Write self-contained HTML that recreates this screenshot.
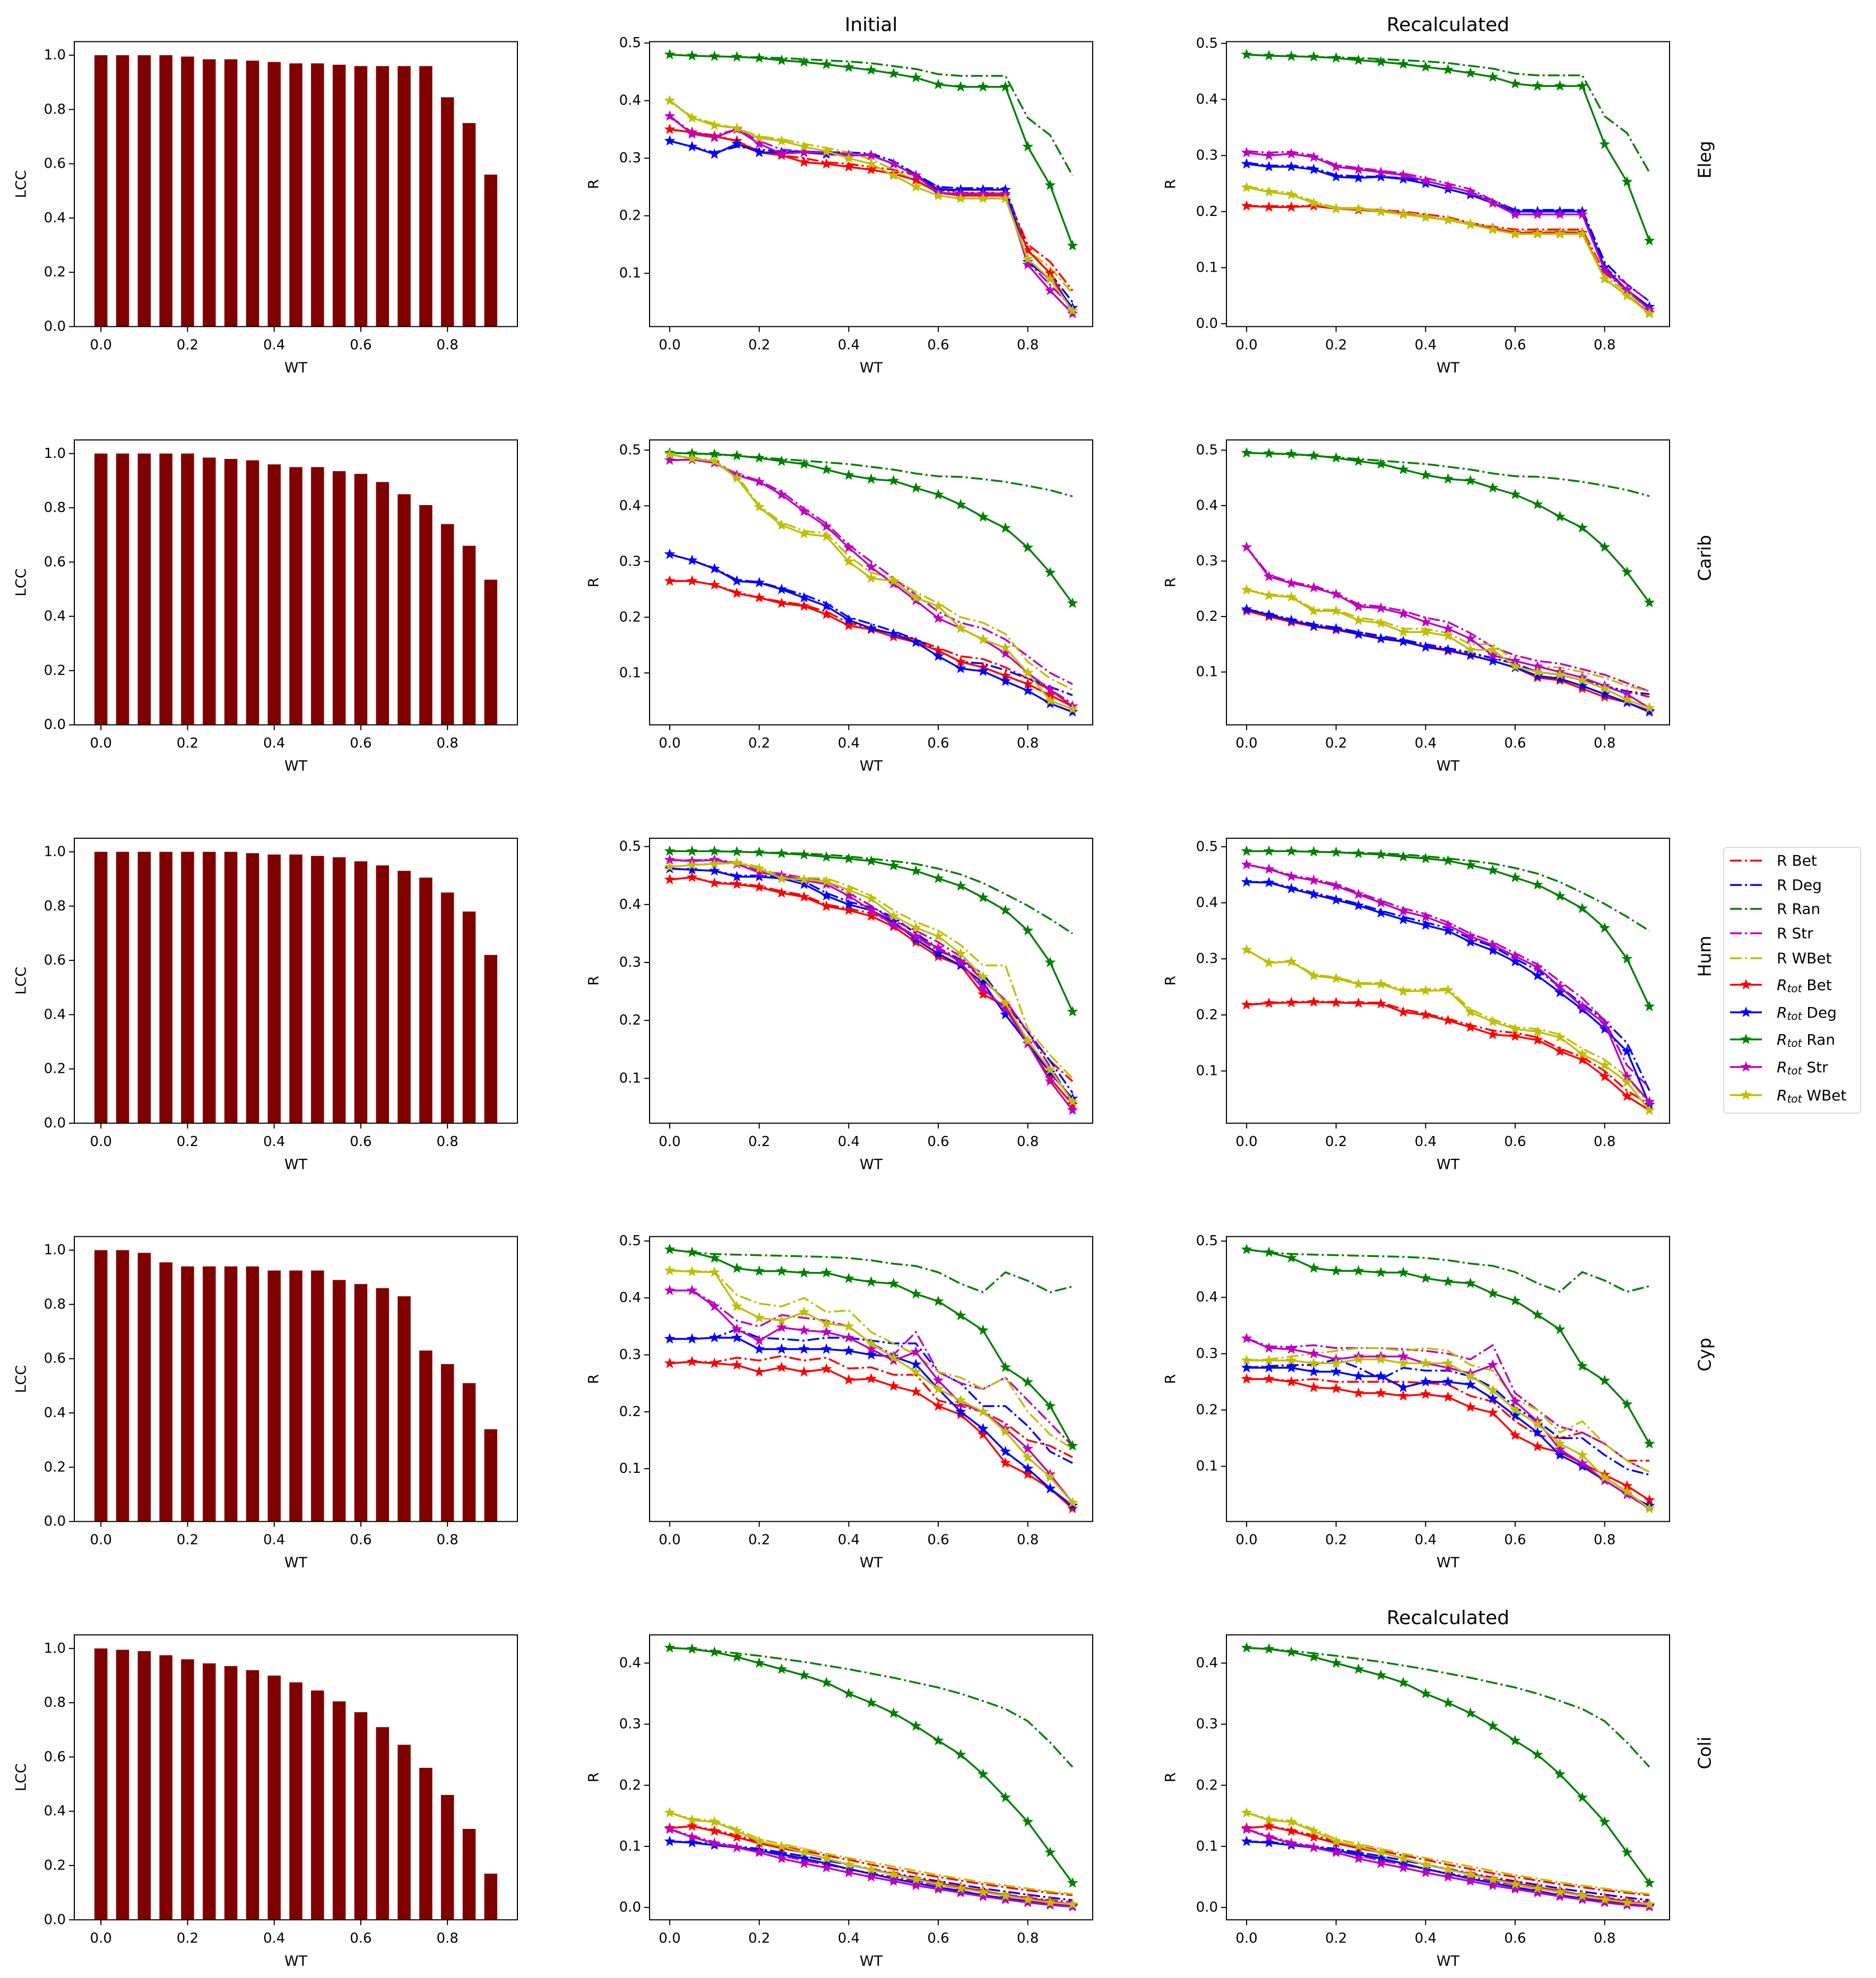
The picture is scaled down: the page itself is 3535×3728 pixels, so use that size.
<!DOCTYPE html>
<html><head><meta charset="utf-8"><title>Robustness panels</title>
<style>
html,body{margin:0;padding:0;background:#fff;}
svg{display:block;}
text{font-family:"DejaVu Sans","Liberation Sans",sans-serif;fill:#000;}
</style></head>
<body>
<svg id="fig" width="3535" height="3728" viewBox="0 0 3535 3728" xmlns="http://www.w3.org/2000/svg"></svg>
<script>
// ---------- data ----------
const wtValues = [0,0.05,0.1,0.15,0.2,0.25,0.3,0.35,0.4,0.45,0.5,0.55,0.6,0.65,0.7,0.75,0.8,0.85,0.9];
const xTickValues = [0,0.2,0.4,0.6,0.8];
const rowNames = ["Eleg","Carib","Hum","Cyp","Coli"];

const lccEleg  = [1,1,1,1,.995,.985,.985,.98,.975,.97,.97,.965,.96,.96,.96,.96,.845,.75,.56];
const lccCarib = [1,1,1,1,1,.985,.98,.975,.96,.95,.95,.935,.925,.895,.85,.81,.74,.66,.535];
const lccHum   = [1,1,1,1,1,1,1,.995,.99,.99,.985,.98,.965,.95,.93,.905,.85,.78,.62];
const lccCyp   = [1,1,.99,.955,.94,.94,.94,.94,.925,.925,.925,.89,.875,.86,.83,.63,.58,.51,.34];
const lccColi  = [1,.995,.99,.975,.96,.945,.935,.92,.9,.875,.845,.805,.765,.71,.645,.56,.46,.335,.17];

// Eleg
const elegRtotRan = [.48,.478,.477,.476,.474,.47,.467,.463,.458,.453,.447,.44,.428,.424,.424,.424,.32,.253,.148];
const elegRRan    = [.48,.478,.477,.476,.475,.474,.472,.47,.468,.465,.46,.455,.446,.443,.443,.443,.37,.34,.27];
const elegInitRtotBet  = [.35,.345,.338,.33,.31,.305,.293,.29,.285,.28,.273,.262,.24,.235,.235,.235,.14,.1,.035];
const elegInitRBet     = [.35,.345,.34,.33,.312,.305,.3,.293,.29,.285,.28,.27,.25,.24,.24,.24,.15,.12,.07];
const elegInitRtotDeg  = [.33,.32,.307,.325,.31,.31,.31,.307,.305,.305,.29,.27,.245,.245,.245,.245,.12,.09,.04];
const elegInitRDeg     = [.33,.32,.31,.32,.315,.312,.312,.31,.31,.308,.295,.272,.25,.248,.248,.248,.14,.1,.05];
const elegInitRtotStr  = [.373,.342,.336,.35,.325,.308,.31,.31,.305,.305,.29,.27,.24,.238,.238,.238,.115,.07,.03];
const elegInitRStr     = [.373,.345,.34,.35,.33,.315,.312,.31,.308,.305,.29,.27,.245,.24,.24,.24,.12,.08,.04];
const elegInitRtotWBet = [.4,.37,.357,.352,.335,.33,.32,.312,.3,.29,.27,.25,.235,.23,.23,.23,.125,.09,.035];
const elegInitRWBet    = [.4,.372,.36,.352,.338,.333,.325,.318,.31,.298,.28,.26,.24,.24,.24,.24,.14,.11,.065];
const elegRecRtotBet  = [.21,.208,.208,.21,.205,.203,.2,.196,.19,.185,.177,.17,.162,.162,.162,.162,.08,.05,.02];
const elegRecRBet     = [.21,.21,.21,.21,.206,.205,.203,.2,.195,.19,.18,.173,.168,.168,.168,.168,.09,.06,.03];
const elegRecRtotDeg  = [.285,.28,.28,.275,.262,.26,.262,.258,.25,.24,.23,.215,.2,.2,.2,.2,.1,.06,.03];
const elegRecRDeg     = [.287,.282,.282,.278,.265,.263,.262,.26,.255,.245,.235,.22,.203,.203,.203,.203,.11,.07,.04];
const elegRecRtotStr  = [.305,.3,.303,.297,.28,.275,.27,.265,.255,.245,.235,.215,.195,.195,.195,.195,.095,.06,.025];
const elegRecRStr     = [.308,.305,.307,.3,.283,.278,.273,.268,.26,.25,.24,.22,.2,.2,.2,.2,.1,.07,.04];
const elegRecRtotWBet = [.243,.235,.23,.215,.205,.205,.2,.195,.19,.185,.177,.168,.16,.16,.16,.16,.08,.05,.018];
const elegRecRWBet    = [.245,.238,.233,.218,.207,.206,.202,.198,.193,.187,.18,.172,.165,.165,.165,.165,.085,.055,.025];

// Carib
const caribRtotRan = [.495,.494,.493,.49,.486,.48,.475,.465,.455,.448,.445,.432,.42,.402,.38,.36,.325,.28,.225];
const caribRRan    = [.495,.494,.492,.49,.487,.484,.481,.478,.475,.47,.465,.458,.453,.452,.448,.443,.436,.428,.417];
const caribInitRtotBet  = [.265,.265,.258,.243,.235,.225,.22,.205,.185,.178,.165,.155,.14,.12,.11,.095,.08,.06,.04];
const caribInitRBet     = [.265,.265,.258,.245,.235,.228,.222,.21,.19,.18,.17,.16,.145,.13,.125,.11,.09,.07,.045];
const caribInitRtotDeg  = [.313,.302,.287,.265,.262,.25,.235,.22,.195,.18,.17,.155,.13,.108,.103,.085,.068,.045,.03];
const caribInitRDeg     = [.313,.302,.288,.267,.263,.252,.24,.225,.2,.188,.175,.16,.14,.12,.117,.105,.09,.075,.06];
const caribInitRtotStr  = [.482,.483,.477,.455,.443,.42,.39,.363,.325,.29,.26,.23,.198,.18,.16,.135,.1,.07,.04];
const caribInitRStr     = [.482,.483,.478,.458,.445,.425,.395,.368,.33,.3,.27,.24,.21,.19,.18,.16,.13,.1,.08];
const caribInitRtotWBet = [.492,.485,.48,.45,.398,.365,.35,.345,.3,.27,.265,.235,.22,.18,.16,.145,.1,.05,.035];
const caribInitRWBet    = [.492,.486,.482,.455,.4,.37,.355,.35,.31,.28,.27,.245,.225,.2,.19,.17,.12,.09,.07];
const caribRecRtotBet  = [.21,.2,.19,.182,.176,.168,.16,.155,.145,.138,.13,.12,.108,.09,.085,.07,.055,.045,.03];
const caribRecRBet     = [.21,.202,.193,.185,.178,.17,.163,.157,.148,.14,.133,.125,.115,.1,.095,.085,.075,.065,.055];
const caribRecRtotDeg  = [.213,.203,.193,.183,.178,.168,.16,.155,.145,.14,.13,.12,.108,.093,.088,.075,.06,.045,.028];
const caribRecRDeg     = [.213,.205,.195,.186,.18,.172,.165,.158,.15,.143,.135,.125,.115,.1,.095,.085,.075,.065,.06];
const caribRecRtotStr  = [.325,.272,.26,.252,.24,.218,.215,.205,.19,.178,.16,.13,.12,.11,.1,.09,.075,.06,.035];
const caribRecRStr     = [.325,.275,.262,.255,.242,.222,.218,.21,.198,.19,.17,.145,.13,.12,.115,.105,.095,.08,.065];
const caribRecRtotWBet = [.248,.238,.235,.21,.21,.193,.188,.172,.172,.165,.14,.14,.11,.1,.095,.085,.07,.05,.035];
const caribRecRWBet    = [.248,.24,.237,.213,.212,.198,.192,.178,.178,.17,.15,.15,.12,.11,.108,.1,.09,.075,.065];

// Hum
const humRtotRan = [.492,.492,.492,.491,.49,.488,.486,.482,.479,.475,.467,.458,.445,.432,.412,.39,.355,.3,.215];
const humRRan    = [.492,.492,.492,.491,.49,.489,.488,.486,.483,.479,.475,.47,.462,.452,.437,.418,.398,.375,.35];
const humInitRtotBet  = [.443,.447,.437,.435,.43,.42,.413,.397,.39,.38,.362,.335,.31,.295,.245,.225,.16,.1,.055];
const humInitRBet     = [.443,.447,.438,.437,.432,.423,.416,.4,.393,.385,.368,.345,.32,.305,.27,.235,.18,.13,.095];
const humInitRtotDeg  = [.462,.46,.458,.448,.448,.445,.435,.415,.4,.39,.37,.34,.315,.295,.265,.21,.16,.11,.065];
const humInitRDeg     = [.462,.46,.458,.45,.45,.448,.44,.42,.405,.395,.378,.35,.325,.305,.28,.23,.18,.13,.075];
const humInitRtotStr  = [.477,.475,.477,.47,.455,.45,.442,.435,.415,.39,.365,.345,.325,.3,.255,.22,.16,.095,.045];
const humInitRStr     = [.477,.476,.478,.472,.458,.453,.446,.44,.42,.398,.372,.355,.335,.31,.27,.235,.18,.12,.06];
const humInitRtotWBet = [.465,.468,.47,.472,.462,.445,.443,.44,.425,.41,.38,.36,.345,.315,.275,.23,.165,.115,.06];
const humInitRWBet    = [.465,.468,.471,.473,.465,.448,.446,.445,.432,.415,.39,.37,.355,.33,.295,.295,.185,.14,.1];
const humRecRtotBet  = [.218,.221,.222,.223,.222,.221,.22,.205,.2,.19,.178,.165,.162,.155,.135,.12,.09,.055,.03];
const humRecRBet     = [.218,.222,.223,.224,.223,.222,.222,.21,.202,.193,.182,.172,.168,.16,.14,.125,.1,.065,.04];
const humRecRtotDeg  = [.437,.436,.425,.415,.405,.395,.382,.37,.36,.35,.33,.315,.295,.27,.24,.21,.175,.135,.04];
const humRecRDeg     = [.437,.437,.427,.418,.408,.398,.386,.375,.365,.355,.336,.322,.3,.28,.25,.22,.19,.15,.065];
const humRecRtotStr  = [.468,.46,.447,.44,.43,.415,.4,.385,.375,.36,.34,.325,.305,.285,.25,.215,.185,.09,.045];
const humRecRStr     = [.468,.461,.449,.442,.433,.418,.404,.39,.38,.365,.345,.33,.31,.29,.26,.23,.19,.11,.07];
const humRecRtotWBet = [.316,.293,.295,.27,.265,.255,.255,.242,.243,.244,.205,.188,.175,.17,.16,.13,.11,.08,.03];
const humRecRWBet    = [.316,.294,.296,.272,.267,.257,.257,.245,.246,.247,.21,.192,.178,.175,.165,.14,.12,.09,.04];

// Cyp
const cypRtotRan = [.485,.48,.47,.452,.447,.447,.444,.444,.434,.428,.425,.407,.394,.369,.343,.278,.252,.21,.14];
const cypRRan    = [.485,.48,.477,.476,.475,.474,.473,.472,.47,.466,.46,.456,.445,.425,.41,.445,.43,.41,.42];
const cypInitRtotBet  = [.285,.288,.285,.282,.27,.278,.27,.275,.256,.258,.245,.235,.21,.195,.16,.11,.09,.065,.03];
const cypInitRBet     = [.285,.288,.287,.295,.29,.298,.29,.295,.276,.278,.265,.265,.22,.21,.2,.18,.15,.14,.12];
const cypInitRtotDeg  = [.328,.328,.33,.33,.31,.31,.31,.31,.307,.3,.297,.283,.24,.2,.17,.13,.1,.065,.035];
const cypInitRDeg     = [.328,.328,.33,.345,.33,.328,.325,.33,.33,.325,.32,.32,.27,.25,.21,.21,.175,.13,.11];
const cypInitRtotStr  = [.413,.413,.385,.345,.325,.348,.343,.34,.33,.31,.29,.305,.255,.215,.2,.17,.135,.09,.04];
const cypInitRStr     = [.413,.413,.39,.36,.35,.37,.365,.36,.35,.32,.3,.34,.27,.25,.24,.26,.22,.18,.14];
const cypInitRtotWBet = [.448,.446,.445,.385,.365,.36,.375,.355,.35,.32,.295,.27,.24,.22,.2,.165,.12,.085,.04];
const cypInitRWBet    = [.448,.447,.446,.405,.39,.385,.4,.375,.378,.34,.32,.3,.27,.26,.24,.26,.2,.16,.135];
const cypRecRtotBet  = [.255,.255,.25,.24,.238,.23,.23,.225,.228,.223,.205,.195,.155,.135,.125,.105,.085,.065,.04];
const cypRecRBet     = [.255,.255,.252,.255,.25,.25,.25,.25,.248,.245,.225,.215,.18,.155,.15,.16,.14,.11,.11];
const cypRecRtotDeg  = [.275,.275,.275,.268,.268,.26,.26,.24,.25,.25,.245,.22,.19,.16,.12,.1,.075,.05,.03];
const cypRecRDeg     = [.275,.278,.28,.28,.29,.275,.255,.275,.27,.27,.26,.24,.205,.18,.15,.15,.12,.095,.085];
const cypRecRtotStr  = [.327,.31,.308,.3,.29,.295,.295,.295,.283,.275,.265,.28,.215,.18,.13,.105,.075,.05,.025];
const cypRecRStr     = [.327,.313,.312,.315,.31,.31,.31,.308,.305,.3,.29,.315,.23,.2,.17,.16,.14,.11,.09];
const cypRecRtotWBet = [.288,.288,.288,.283,.283,.29,.29,.283,.283,.283,.26,.235,.2,.175,.14,.12,.08,.055,.025];
const cypRecRWBet    = [.288,.29,.295,.3,.305,.31,.31,.305,.31,.305,.28,.27,.22,.2,.16,.18,.14,.11,.09];

// Coli
const coliRtotRan = [.425,.423,.418,.41,.4,.39,.38,.368,.35,.335,.318,.297,.273,.25,.218,.18,.14,.09,.04];
const coliRRan    = [.425,.423,.42,.416,.412,.407,.402,.396,.39,.383,.376,.368,.36,.35,.338,.325,.305,.27,.23];
const coliRtotBet  = [.13,.133,.125,.115,.105,.097,.09,.08,.07,.062,.055,.047,.04,.033,.027,.02,.015,.01,.005];
const coliRBet     = [.13,.133,.127,.118,.108,.1,.093,.085,.078,.07,.063,.056,.05,.044,.038,.033,.028,.024,.02];
const coliRtotDeg  = [.108,.106,.102,.098,.093,.087,.08,.072,.063,.055,.047,.04,.033,.027,.02,.015,.01,.006,.003];
const coliRDeg     = [.108,.107,.104,.1,.096,.09,.084,.077,.07,.063,.056,.049,.043,.037,.031,.026,.021,.016,.012];
const coliRtotStr  = [.128,.115,.105,.098,.09,.08,.072,.065,.057,.05,.043,.036,.03,.024,.018,.013,.008,.004,.001];
const coliRStr     = [.128,.117,.107,.1,.093,.085,.077,.07,.063,.056,.05,.043,.037,.031,.026,.021,.016,.012,.009];
const coliRtotWBet = [.155,.143,.14,.125,.108,.1,.09,.08,.07,.062,.054,.046,.038,.031,.025,.019,.013,.008,.005];
const coliRWBet    = [.155,.145,.142,.128,.112,.104,.096,.088,.081,.074,.067,.06,.053,.047,.041,.036,.031,.026,.022];

const lccByRow = [lccEleg, lccCarib, lccHum, lccCyp, lccColi];
const methodNames = ["Bet","Deg","Ran","Str","WBet"];
const methodColors = ["#ff0000","#0000ff","#008000","#bf00bf","#bfbf00"];
const seriesByPanel = [
  [[elegInitRBet,elegInitRDeg,elegRRan,elegInitRStr,elegInitRWBet],[elegInitRtotBet,elegInitRtotDeg,elegRtotRan,elegInitRtotStr,elegInitRtotWBet]],
  [[elegRecRBet,elegRecRDeg,elegRRan,elegRecRStr,elegRecRWBet],[elegRecRtotBet,elegRecRtotDeg,elegRtotRan,elegRecRtotStr,elegRecRtotWBet]],
  [[caribInitRBet,caribInitRDeg,caribRRan,caribInitRStr,caribInitRWBet],[caribInitRtotBet,caribInitRtotDeg,caribRtotRan,caribInitRtotStr,caribInitRtotWBet]],
  [[caribRecRBet,caribRecRDeg,caribRRan,caribRecRStr,caribRecRWBet],[caribRecRtotBet,caribRecRtotDeg,caribRtotRan,caribRecRtotStr,caribRecRtotWBet]],
  [[humInitRBet,humInitRDeg,humRRan,humInitRStr,humInitRWBet],[humInitRtotBet,humInitRtotDeg,humRtotRan,humInitRtotStr,humInitRtotWBet]],
  [[humRecRBet,humRecRDeg,humRRan,humRecRStr,humRecRWBet],[humRecRtotBet,humRecRtotDeg,humRtotRan,humRecRtotStr,humRecRtotWBet]],
  [[cypInitRBet,cypInitRDeg,cypRRan,cypInitRStr,cypInitRWBet],[cypInitRtotBet,cypInitRtotDeg,cypRtotRan,cypInitRtotStr,cypInitRtotWBet]],
  [[cypRecRBet,cypRecRDeg,cypRRan,cypRecRStr,cypRecRWBet],[cypRecRtotBet,cypRecRtotDeg,cypRtotRan,cypRecRtotStr,cypRecRtotWBet]],
  [[coliRBet,coliRDeg,coliRRan,coliRStr,coliRWBet],[coliRtotBet,coliRtotDeg,coliRtotRan,coliRtotStr,coliRtotWBet]],
  [[coliRBet,coliRDeg,coliRRan,coliRStr,coliRWBet],[coliRtotBet,coliRtotDeg,coliRtotRan,coliRtotStr,coliRtotWBet]]
];

// ---------- layout ----------
const NS = "http://www.w3.org/2000/svg";
const svg = document.getElementById("fig");
const colLeft = [140, 1224, 2311];
const panelW = 835, panelH = 537;
const rowTop = r => 78.5 + r * 750.7;
const FS = 26;

function mk(tag, attrs, parent) {
  const e = document.createElementNS(NS, tag);
  for (const k in attrs) e.setAttribute(k, attrs[k]);
  (parent || svg).appendChild(e);
  return e;
}
function txt(str, x, y, size, anchor, parent, rot) {
  const t = mk("text", {x: x, y: y, "font-size": size, "text-anchor": anchor || "middle", "dominant-baseline": "central"}, parent);
  if (rot) t.setAttribute("transform", "rotate(" + rot + " " + x + " " + y + ")");
  t.textContent = str;
  return t;
}
function starPath(cx, cy, R) {
  const r = R * 0.42; let d = "";
  for (let i = 0; i < 10; i++) {
    const a = -Math.PI / 2 + i * Math.PI / 5, rr = i % 2 ? r : R;
    d += (i ? "L" : "M") + (cx + rr * Math.cos(a)).toFixed(1) + " " + (cy + rr * Math.sin(a)).toFixed(1);
  }
  return d + "Z";
}

function drawAxes(g, L, T, xlim, ylim, yticks, ylabel, ylabX) {
  const sx = v => L + (v - xlim[0]) / (xlim[1] - xlim[0]) * panelW;
  const sy = v => T + panelH - (v - ylim[0]) / (ylim[1] - ylim[0]) * panelH;
  xTickValues.forEach(v => {
    const tk = mk("line", {x1: sx(v), x2: sx(v), y1: T + panelH, y2: T + panelH + 10, stroke: "#000", "stroke-width": 2}, g);
    
    
    const lb = txt(v.toFixed(1), sx(v), T + panelH + 35, FS, "middle", g);
    
    
  });
  yticks.forEach(v => {
    const tk = mk("line", {x1: L - 10, x2: L, y1: sy(v), y2: sy(v), stroke: "#000", "stroke-width": 2}, g);
    
    
    const lb = txt(v.toFixed(1), L - 16, sy(v), FS, "end", g);
    
    
  });
  const xl = txt("WT", L + panelW / 2, T + panelH + 78, 27, "middle", g);
  
  
  const yl = txt(ylabel, ylabX, T + panelH / 2, 27, "middle", g, -90);
  
  
  return {sx, sy};
}
function frame(g, L, T) {
  const f = mk("rect", {x: L, y: T, width: panelW, height: panelH, fill: "none", stroke: "#000", "stroke-width": 2}, g);
  
  
}

// ---------- bar panels ----------
for (let r = 0; r < 5; r++) {
  const g = mk("g", {});
  
  
  const L = colLeft[0], T = rowTop(r);
  const vals = lccByRow[r];
  const ymax = Math.max(...vals) * 1.05;
  const xlim = [-0.0615, 0.9615];
  const {sx, sy} = drawAxes(g, L, T, xlim, [0, ymax], [0, 0.2, 0.4, 0.6, 0.8, 1.0], "LCC", 40);
  vals.forEach((v, i) => {
    const x0 = sx(wtValues[i] - 0.015), x1 = sx(wtValues[i] + 0.015);
    const b = mk("rect", {x: x0, y: sy(v), width: x1 - x0, height: sy(0) - sy(v), fill: "#800000"}, g);
    
    
  });
  frame(g, L, T);
}

// ---------- line panels ----------
for (let p = 0; p < 10; p++) {
  const r = Math.floor(p / 2), c = 1 + (p % 2);
  const g = mk("g", {});
  
  
  const L = colLeft[c], T = rowTop(r);
  const [rSeries, totSeries] = seriesByPanel[p];
  let lo = Infinity, hi = -Infinity;
  rSeries.concat(totSeries).forEach(s => s.forEach(v => { lo = Math.min(lo, v); hi = Math.max(hi, v); }));
  const pad = (hi - lo) * 0.05;
  const ylim = [lo - pad, hi + pad];
  const yticks = [];
  for (let k = Math.ceil(ylim[0] * 10 - 1e-9); k <= Math.floor(ylim[1] * 10 + 1e-9); k++) yticks.push(k / 10);
  const {sx, sy} = drawAxes(g, L, T, [-0.045, 0.945], ylim, yticks, "R", L - 105);
  const clip = mk("clipPath", {id: "clip" + p}, g);
  mk("rect", {x: L, y: T, width: panelW, height: panelH}, clip);
  const pg = mk("g", {"clip-path": "url(#clip" + p + ")"}, g);
  rSeries.forEach((s, m) => {
    const d = s.map((v, i) => (i ? "L" : "M") + sx(wtValues[i]).toFixed(1) + " " + sy(v).toFixed(1)).join("");
    const ln = mk("path", {d: d, fill: "none", stroke: methodColors[m], "stroke-width": 3.5, "stroke-dasharray": "22 6 4 6"}, pg);
    
    
  });
  totSeries.forEach((s, m) => {
    const d = s.map((v, i) => (i ? "L" : "M") + sx(wtValues[i]).toFixed(1) + " " + sy(v).toFixed(1)).join("");
    const ln = mk("path", {d: d, fill: "none", stroke: methodColors[m], "stroke-width": 3.5}, pg);
    
    
    s.forEach((v, i) => {
      const st = mk("path", {d: starPath(sx(wtValues[i]), sy(v), 11), fill: methodColors[m]}, pg);
      
      
    });
  });
  frame(g, L, T);
}

// ---------- titles & row labels ----------
const t1 = txt("Initial", colLeft[1] + panelW / 2, 47, 36, "middle");


const t2 = txt("Recalculated", colLeft[2] + panelW / 2, 47, 36, "middle");


const t3 = txt("Recalculated", colLeft[2] + panelW / 2, rowTop(4) - 32, 36, "middle");


rowNames.forEach((n, r) => {
  const rl = txt(n, 3212, rowTop(r) + panelH / 2 - 46, 33, "middle", svg, -90);
  
  
});

// ---------- legend ----------
const lg = mk("g", {});


const lbox = mk("rect", {x: 3248, y: 1597, width: 258, height: 501, rx: 6, fill: "#fff", stroke: "#d9d9d9", "stroke-width": 2}, lg);


const legY = [1622, 1668, 1713, 1759, 1806, 1856, 1908, 1959, 2011, 2064];
for (let k = 0; k < 10; k++) {
  const m = k % 5, isTot = k >= 5, y = legY[k];
  const e = mk("g", {}, lg);
  
  
  const ln = mk("line", {x1: 3260, x2: 3320, y1: y, y2: y, stroke: methodColors[m], "stroke-width": 3.5}, e);
  if (!isTot) ln.setAttribute("stroke-dasharray", "22 6 4 6");
  else mk("path", {d: starPath(3290, y, 11), fill: methodColors[m]}, e);
  const t = mk("text", {x: 3348, y: y, "font-size": 28, "dominant-baseline": "central"}, e);
  if (isTot) {
    const a = mk("tspan", {"font-style": "italic"}, t); a.textContent = "R";
    const b = mk("tspan", {"font-style": "italic", "font-size": 20, dy: 7}, t); b.textContent = "tot";
    const c2 = mk("tspan", {dy: -7}, t); c2.textContent = " " + methodNames[m];
  } else {
    t.textContent = "R " + methodNames[m];
  }
}
</script>
</body></html>
